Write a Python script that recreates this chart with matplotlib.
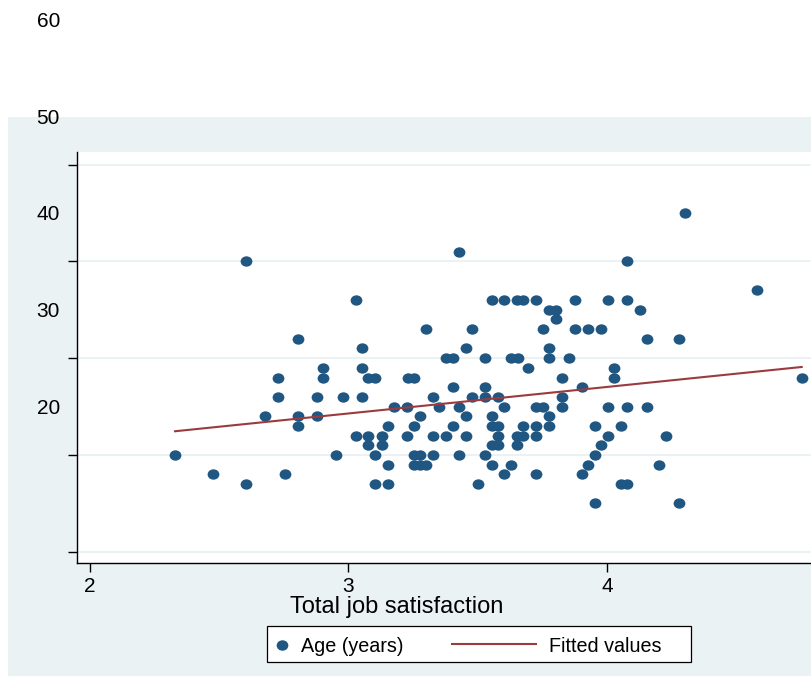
import numpy as np
import matplotlib
matplotlib.use("Agg")
import matplotlib.pyplot as plt
import matplotlib.transforms as mtransforms
from matplotlib.path import Path
from matplotlib.patches import Rectangle
from matplotlib.lines import Line2D

plt.rcParams['font.family'] = ['Liberation Sans', 'DejaVu Sans']

# --- datos (satisfaccion por cada edad) ---
edades = [45, 41, 40, 37, 36, 35, 34, 33, 32, 31, 30, 29, 28, 27, 26,
          25, 24, 23, 22, 21, 20, 19, 18, 17, 15]
satisf_por_edad = [
    [4.302],
    [3.427],
    [2.602, 4.078],
    [4.579],
    [3.028, 3.554, 3.603, 3.653, 3.676, 3.727, 3.876, 4.003, 4.078],
    [3.777, 3.803, 4.129],
    [3.803],
    [3.301, 3.478, 3.751, 3.876, 3.926, 3.977],
    [2.803, 4.153, 4.277],
    [3.053, 3.453, 3.777],
    [3.376, 3.403, 3.528, 3.629, 3.657, 3.777, 3.852],
    [2.901, 3.053, 3.696, 4.028],
    [2.728, 2.901, 3.077, 3.103, 3.231, 3.255, 3.826, 4.028, 4.753],
    [3.403, 3.528, 3.902],
    [2.728, 2.877, 2.978, 3.053, 3.326, 3.478, 3.528, 3.577, 3.826],
    [3.177, 3.227, 3.350, 3.427, 3.603, 3.727, 3.751, 3.826, 4.003, 4.078, 4.153],
    [2.677, 2.803, 2.877, 3.278, 3.453, 3.554, 3.777],
    [2.803, 3.153, 3.253, 3.403, 3.554, 3.577, 3.676, 3.727, 3.777, 3.952, 4.053],
    [3.028, 3.077, 3.128, 3.227, 3.326, 3.376, 3.453, 3.577, 3.653, 3.676, 3.727, 4.003, 4.228],
    [3.077, 3.128, 3.554, 3.577, 3.653, 3.977],
    [2.329, 2.953, 3.103, 3.253, 3.278, 3.326, 3.427, 3.528, 3.952],
    [3.153, 3.253, 3.278, 3.301, 3.554, 3.629, 3.928, 4.202],
    [2.477, 2.753, 3.603, 3.727, 3.902],
    [2.602, 3.103, 3.153, 3.502, 4.053, 4.078],
    [3.952, 4.277],
]

# linea ajustada (extremos leidos)
ajuste_edad = [22.45, 29.09]

x_ticks = [2, 3, 4]
y_ticks = [10, 20, 30, 40, 50]
y_etiquetas = [20, 30, 40, 50, 60]

x = np.concatenate([np.array(s) for s in satisf_por_edad])
y = np.concatenate([np.full(len(s), e) for s, e in zip(satisf_por_edad, edades)])
ajuste_x = [x.min(), x.max()]

# --- estilo ---
W, H = 811, 677
fondo = '#eaf2f3'
azul = '#1f5682'
rojo = '#9c3b3e'

def fx(p):
    return p / W

def fy(p):
    return 1 - p / H

circ = Path.unit_circle()
elipse = Path(circ.vertices * [1.0, 0.88], circ.codes)

fig = plt.figure(figsize=(W / 100, H / 100), dpi=100)
fig.patch.set_facecolor('white')
fig.add_artist(Rectangle((fx(8), fy(676)), 1 - fx(8), (676 - 117) / H,
                         transform=fig.transFigure, facecolor=fondo,
                         edgecolor='none', zorder=0))

ax = fig.add_axes([fx(77), fy(563), 1 - fx(77), (563 - 152) / H])
ax.set_zorder(1)
ax.set_facecolor('white')

ax.scatter(x, y, s=72, marker=elipse, color=azul, linewidths=0, zorder=3)
ax.plot(ajuste_x, ajuste_edad, color=rojo, lw=1.5, zorder=4)

ax.set_xlim(1.95, 4.789)
ax.set_ylim(8.84, 51.3)

ax.set_yticks(y_ticks)
ax.set_yticklabels([])
ax.set_xticks(x_ticks)
ax.set_xticklabels([str(t) for t in x_ticks], fontsize=15)
ax.tick_params(axis='both', direction='out', length=6.5, width=1.0, pad=3.5)
ax.grid(axis='y', color=fondo, lw=1.4, zorder=0)
ax.set_axisbelow(True)

for lado in ['top', 'right']:
    ax.spines[lado].set_visible(False)
for lado in ['left', 'bottom']:
    ax.spines[lado].set_linewidth(1.0)

# etiquetas del eje y (desplazadas como en la imagen)
trans = mtransforms.blended_transform_factory(ax.transAxes, ax.transData)
for et in y_etiquetas:
    ax.text(-(77 - 60) / (W - 77), et + 4.8, str(et), transform=trans,
            ha='right', va='center', fontsize=15, clip_on=False)

fig.text(fx(396.7), fy(613), 'Total job satisfaction', ha='center',
         va='baseline', fontsize=17)

# --- leyenda ---
fig.add_artist(Rectangle((fx(266.7), fy(661.7)), (690.7 - 266.7) / W, 36 / H,
                         transform=fig.transFigure, facecolor='white',
                         edgecolor='black', lw=0.9, zorder=2))
fig.add_artist(Line2D([fx(281.7)], [fy(645)], marker=elipse, markersize=7.4,
                      color=azul, lw=0, transform=fig.transFigure, zorder=3))
fig.text(fx(300.7), fy(651.7), 'Age (years)', ha='left', va='baseline',
         fontsize=14.2, zorder=3)
fig.add_artist(Line2D([fx(451.7), fx(535.7)], [fy(644), fy(644)], color=rojo,
                      lw=1.5, transform=fig.transFigure, zorder=3))
fig.text(fx(549), fy(651.7), 'Fitted values', ha='left', va='baseline',
         fontsize=14.2, zorder=3)

fig.savefig('out.png', dpi=100)
